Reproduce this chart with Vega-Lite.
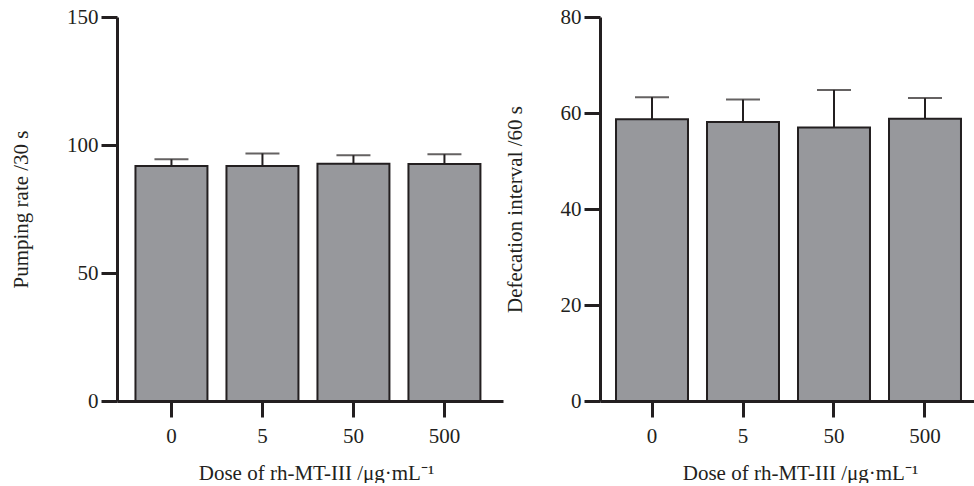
{
  "$schema": "https://vega.github.io/schema/vega-lite/v6.json",
  "padding": {"left": 10, "top": 6, "right": 0, "bottom": 0},
  "spacing": 1,
  "config": {
    "font": "Liberation Serif",
    "view": {"stroke": null},
    "axis": {
      "grid": false,
      "domainColor": "#231f20",
      "domainWidth": 3,
      "tickColor": "#231f20",
      "tickWidth": 3,
      "tickSize": 16,
      "labelFont": "Liberation Serif",
      "labelFontSize": 21,
      "labelColor": "#231f20",
      "titleFont": "Liberation Serif",
      "titleFontSize": 21,
      "titleFontWeight": "normal",
      "titleColor": "#231f20"
    }
  },
  "datasets": {
    "pump": [
      {"dose": "0", "mean": 91.8, "upper": 94.4},
      {"dose": "5", "mean": 91.8, "upper": 96.7},
      {"dose": "50", "mean": 92.7, "upper": 96.0},
      {"dose": "500", "mean": 92.6, "upper": 96.4}
    ],
    "defec": [
      {"dose": "0", "mean": 58.7, "upper": 63.3},
      {"dose": "5", "mean": 58.1, "upper": 62.8},
      {"dose": "50", "mean": 57.0, "upper": 64.8},
      {"dose": "500", "mean": 58.8, "upper": 63.1}
    ]
  },
  "hconcat": [
    {
      "width": 386,
      "height": 384,
      "data": {"name": "pump"},
      "encoding": {
        "x": {
          "field": "dose", "type": "nominal", "sort": ["0", "5", "50", "500"],
          "scale": {"paddingInner": 0.209, "paddingOuter": 0.2255, "align": 0.45},
          "axis": {"title": "Dose of rh-MT-III /μg·mL⁻¹", "labelAngle": 0, "labelPadding": 8, "titlePadding": 16, "titleX": 199,
            "domainWidth": 3, "tickWidth": 3, "tickSize": 16, "domainColor": "#231f20", "tickColor": "#231f20"}
        }
      },
      "layer": [
        {
          "mark": {"type": "rule", "color": "#231f20", "strokeWidth": 2},
          "encoding": {
            "y": {"field": "mean", "type": "quantitative", "scale": {"domain": [0, 150], "nice": false},
              "axis": {"values": [0, 50, 100, 150], "title": "Pumping rate /30 s", "labelPadding": 3, "titleX": -86,
                "domainWidth": 3, "tickWidth": 3, "tickSize": 16, "domainColor": "#231f20", "tickColor": "#231f20"}},
            "y2": {"field": "upper"}
          }
        },
        {
          "mark": {"type": "tick", "color": "#231f20", "thickness": 2, "size": 34},
          "encoding": {"y": {"field": "upper", "type": "quantitative"}}
        },
        {
          "mark": {"type": "bar", "fill": "#97989c", "stroke": "#231f20", "strokeWidth": 2},
          "encoding": {"y": {"field": "mean", "type": "quantitative"}}
        }
      ]
    },
    {
      "width": 377,
      "height": 384,
      "data": {"name": "defec"},
      "encoding": {
        "x": {
          "field": "dose", "type": "nominal", "sort": ["0", "5", "50", "500"],
          "scale": {"paddingInner": 0.209, "paddingOuter": 0.176, "align": 0.5},
          "axis": {"title": "Dose of rh-MT-III /μg·mL⁻¹", "labelAngle": 0, "labelPadding": 8, "titlePadding": 16, "titleX": 200,
            "domainWidth": 3, "tickWidth": 3, "tickSize": 16, "domainColor": "#231f20", "tickColor": "#231f20"}
        }
      },
      "layer": [
        {
          "mark": {"type": "rule", "color": "#231f20", "strokeWidth": 2},
          "encoding": {
            "y": {"field": "mean", "type": "quantitative", "scale": {"domain": [0, 80], "nice": false},
              "axis": {"values": [0, 20, 40, 60, 80], "title": "Defecation interval /60 s", "labelPadding": 3, "titleX": -75,
                "domainWidth": 3, "tickWidth": 3, "tickSize": 16, "domainColor": "#231f20", "tickColor": "#231f20"}},
            "y2": {"field": "upper"}
          }
        },
        {
          "mark": {"type": "tick", "color": "#231f20", "thickness": 2, "size": 34},
          "encoding": {"y": {"field": "upper", "type": "quantitative"}}
        },
        {
          "mark": {"type": "bar", "fill": "#97989c", "stroke": "#231f20", "strokeWidth": 2},
          "encoding": {"y": {"field": "mean", "type": "quantitative"}}
        }
      ]
    }
  ]
}
